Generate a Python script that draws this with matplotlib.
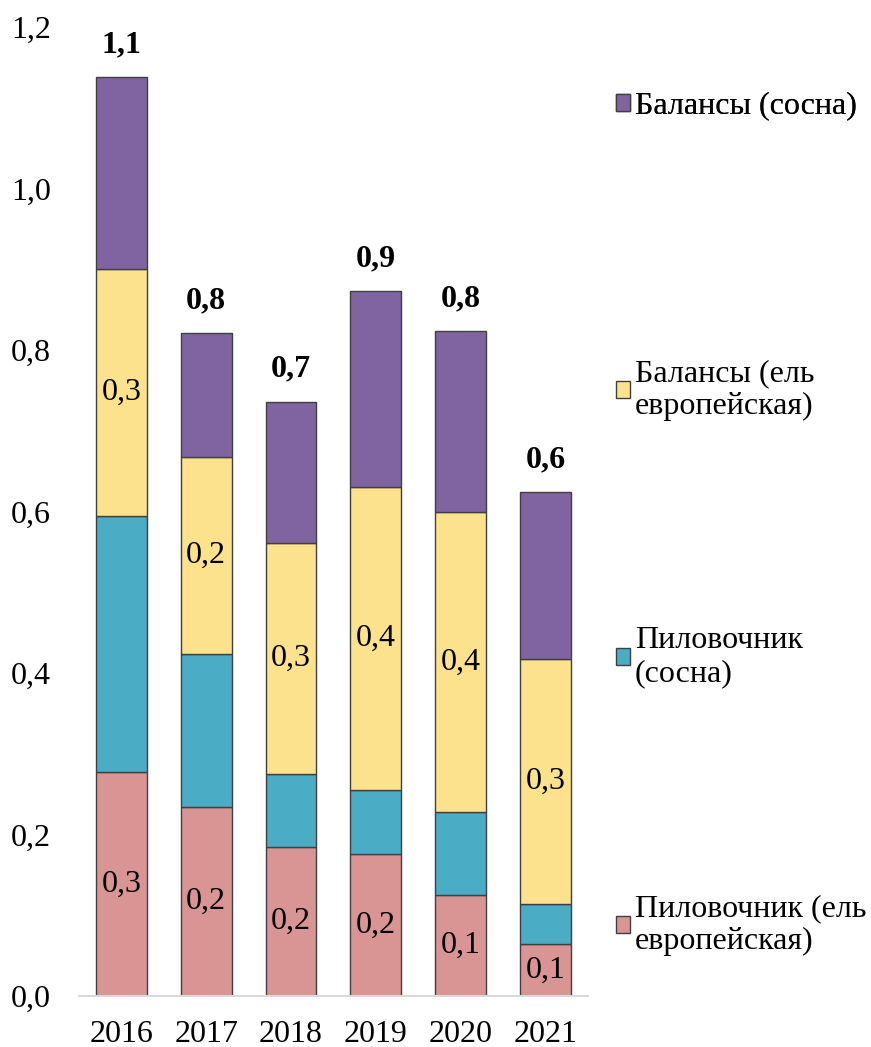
import matplotlib.pyplot as plt
import numpy as np

plt.rcParams['font.family'] = ['Liberation Serif', 'DejaVu Serif']

years = ['2016', '2017', '2018', '2019', '2020', '2021']
saw_spruce = [0.277, 0.234, 0.185, 0.176, 0.125, 0.064]   # Пиловочник (ель европейская)
saw_pine = [0.317, 0.189, 0.090, 0.079, 0.103, 0.050]     # Пиловочник (сосна)
pulp_spruce = [0.306, 0.245, 0.286, 0.375, 0.371, 0.303]  # Балансы (ель европейская)
pulp_pine = [0.238, 0.153, 0.175, 0.243, 0.224, 0.207]    # Балансы (сосна)

names = ['Пиловочник (ель\nевропейская)', 'Пиловочник\n(сосна)',
         'Балансы (ель\nевропейская)', 'Балансы (сосна)']
colors = ['#D99594', '#4BACC6', '#FCE28C', '#8064A2']
series = [saw_spruce, saw_pine, pulp_spruce, pulp_pine]
show_labels = [True, False, True, False]

fs = 23

fig = plt.figure(figsize=(8.71, 10.47), dpi=100)
ax = fig.add_axes([0.0907, 0.0487, 0.5843, 0.9255])

x = np.arange(len(years))
bottom = np.zeros(len(years))
handles = []
for vals, name, col, lab in zip(series, names, colors, show_labels):
    bars = ax.bar(x, vals, 0.6, bottom=bottom, color=col, edgecolor='#3f3f3f',
                  linewidth=1, label=name)
    handles.append(bars)
    if lab:
        for xi, b, v in zip(x, bottom, vals):
            ax.text(xi, b + v / 2, f'{v:.1f}'.replace('.', ','), ha='center',
                    va='center', fontsize=fs)
    bottom = bottom + np.array(vals)

for xi, tot in zip(x, bottom):
    ax.annotate(f'{tot:.1f}'.replace('.', ','), (xi, tot), xytext=(0, 13),
                textcoords='offset points', ha='center', va='bottom',
                fontsize=fs, fontweight='bold')

ax.set_xlim(-0.5, 5.5)
ax.set_ylim(0, 1.2)
ax.set_xticks(x)
ax.set_xticklabels(years)
yt = np.arange(0, 1.21, 0.2)
ax.set_yticks(yt)
ax.set_yticklabels([f'{v:.1f}'.replace('.', ',') for v in yt])
ax.tick_params(length=0, labelsize=fs)
ax.tick_params(axis='x', pad=17)
ax.tick_params(axis='y', pad=20)
for s in ['top', 'right', 'left']:
    ax.spines[s].set_visible(False)
ax.spines['bottom'].set_color('#d9d9d9')
ax.spines['bottom'].set_linewidth(1.5)

# one legend per entry, so the spacing follows the reference
leg_y = [0.0733, 0.3498, 0.6254, 0.9185]
for h, name, ly in zip(handles, names, leg_y):
    leg = ax.legend([h], [name], loc='center left', bbox_to_anchor=(1.055, ly),
                    frameon=False, fontsize=fs, handlelength=0.45,
                    handleheight=0.45, handletextpad=0.15, borderaxespad=0,
                    borderpad=0)
    ax.add_artist(leg)

fig.savefig('out.png', dpi=100)
